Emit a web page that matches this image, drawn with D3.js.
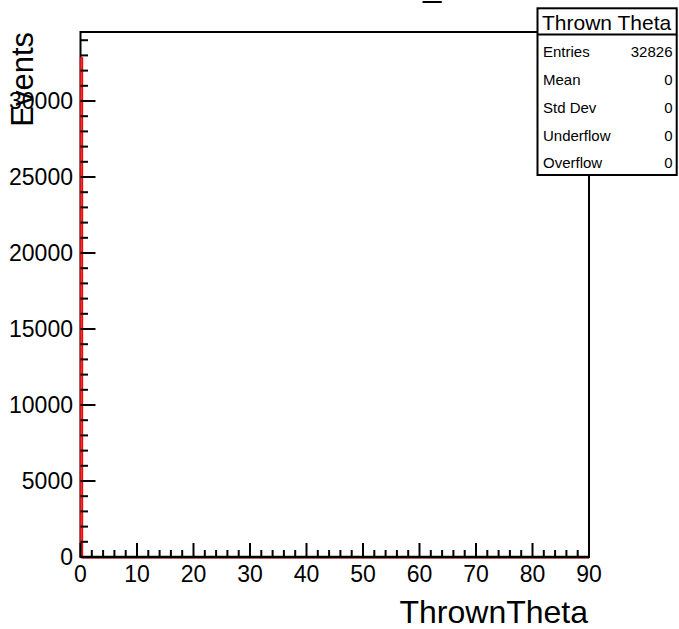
<!DOCTYPE html>
<html><head><meta charset="utf-8">
<script src="https://cdn.jsdelivr.net/npm/d3@7"></script>
<style>body{margin:0;background:#fff}svg{display:block}text{font-family:"Liberation Sans",Arial,sans-serif}</style>
</head><body>
<script>
// Data
const binLow = [0, 0.35];
const binHigh = [0.35, 90];
const binCounts = [32826, 0];
const xTicks = [0,10,20,30,40,50,60,70,80,90];
const yTicks = [0,5000,10000,15000,20000,25000,30000];
const statNames = ["Entries","Mean","Std Dev","Underflow","Overflow"];
const statValues = ["32826","0","0","0","0"];
const statTitle = "Thrown Theta";
const xTitle = "ThrownTheta";
const yTitle = "Events";

const W = 679, H = 629;
const svg = d3.select("body").append("svg").attr("width", W).attr("height", H);
const L = 80.5, R = 589, T = 32, B = 557;
const x = d3.scaleLinear().domain([0, 90]).range([L, R]);
const y = d3.scaleLinear().domain([0, 34540]).range([B, T]);

// frame
svg.append("rect").attr("x", L).attr("y", T).attr("width", R - L).attr("height", B - T)
  .attr("fill", "none").attr("stroke", "#000").attr("stroke-width", 2);

// histogram (step line)
const pts = [];
binCounts.forEach((c, i) => { pts.push([x(binLow[i]), y(c)]); pts.push([x(binHigh[i]), y(c)]); });
const path = [[x(binLow[0]), y(0)], ...pts, [x(binHigh[binHigh.length-1]), y(0)]];
svg.append("path").attr("d", d3.line()(path.map(p => [p[0], p[1] + (p[1] === y(0) ? 0.9 : 0)])))
  .attr("fill", "none").attr("stroke", "#ff0000").attr("stroke-width", 1.4);
// redraw bottom axis line over histogram baseline
svg.append("line").attr("x1", L).attr("x2", R).attr("y1", B).attr("y2", B)
  .attr("stroke", "#000").attr("stroke-width", 2.4);

// x ticks
const xMinor = d3.range(0, 91, 2);
svg.append("g").selectAll("line").data(xMinor).join("line")
  .attr("x1", d => x(d)).attr("x2", d => x(d))
  .attr("y1", B).attr("y2", d => B - (d % 10 === 0 ? 14 : 7))
  .attr("stroke", "#000").attr("stroke-width", 2);
svg.append("g").selectAll("text").data(xTicks).join("text")
  .attr("x", d => x(d)).attr("y", 582).attr("text-anchor", "middle")
  .attr("font-size", 23).text(d => d);

// y ticks
const yMinor = d3.range(0, 34001, 1000);
svg.append("g").selectAll("line").data(yMinor).join("line")
  .attr("x1", L).attr("x2", d => L + (d % 5000 === 0 ? 15 : 7.5))
  .attr("y1", d => y(d)).attr("y2", d => y(d))
  .attr("stroke", "#000").attr("stroke-width", 2);
svg.append("g").selectAll("text").data(yTicks).join("text")
  .attr("x", 73).attr("y", d => y(d) + 8).attr("text-anchor", "end")
  .attr("font-size", 23).text(d => d);

// axis titles
svg.append("text").attr("x", 588).attr("y", 623).attr("text-anchor", "end")
  .attr("font-size", 32).text(xTitle);
svg.append("text").attr("transform", "translate(33,32) rotate(-90)")
  .attr("text-anchor", "end").attr("font-size", 31).text(yTitle);

// title (mostly off-canvas, as in the reference)
svg.append("text").attr("x", 423).attr("y", -4.5).attr("font-size", 33).text("_");

// stats box
const bx = 537.5, by = 8.3, bw = 139.2, bh = 166.7;
svg.append("rect").attr("x", bx).attr("y", by).attr("width", bw).attr("height", bh)
  .attr("fill", "#fff").attr("stroke", "#000").attr("stroke-width", 2);
svg.append("line").attr("x1", bx).attr("x2", bx + bw).attr("y1", 34.5).attr("y2", 34.5)
  .attr("stroke", "#000").attr("stroke-width", 2);
svg.append("text").attr("x", 542).attr("y", 30).attr("font-size", 21).text(statTitle);
const rowY = [56.5, 84.5, 112.5, 140.5, 168];
svg.append("g").selectAll("text").data(statNames).join("text")
  .attr("x", 543).attr("y", (d, i) => rowY[i]).attr("font-size", 15).text(d => d);
svg.append("g").selectAll("text").data(statValues).join("text")
  .attr("x", 672.5).attr("y", (d, i) => rowY[i]).attr("text-anchor", "end").attr("font-size", 15).text(d => d);
</script>
</body></html>
